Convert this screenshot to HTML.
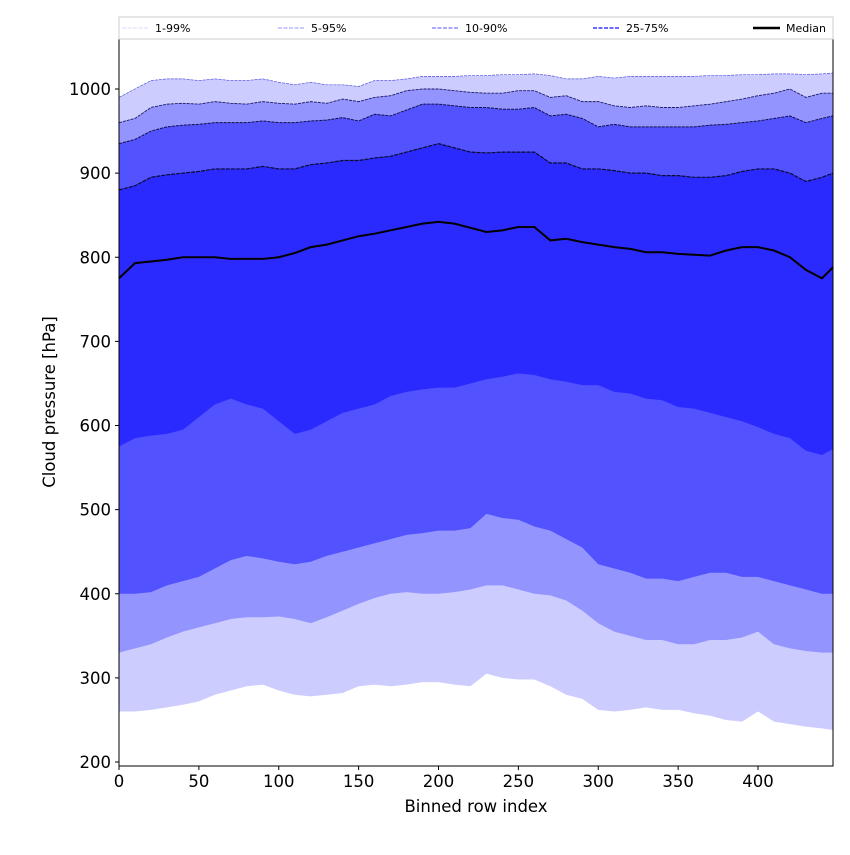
<!DOCTYPE html>
<html><head><meta charset="utf-8"><style>
body{margin:0;background:#fff;font-family:"Liberation Sans","DejaVu Sans",sans-serif}
</style></head><body>
<svg id="chart" width="850" height="850" xmlns="http://www.w3.org/2000/svg" font-family="DejaVu Sans, Liberation Sans, sans-serif">
<rect width="850" height="850" fill="#fff"/>
<g id="plot"></g>
<g id="axes"></g>
</svg>
<script>
const xs=[0,10,20,30,40,50,60,70,80,90,100,110,120,130,140,150,160,170,180,190,200,210,220,230,240,250,260,270,280,290,300,310,320,330,340,350,360,370,380,390,400,410,420,430,440,447];
const p99=[990,1000,1010,1012,1012,1010,1012,1010,1010,1012,1008,1005,1008,1005,1005,1003,1010,1010,1012,1015,1015,1015,1016,1016,1017,1017,1018,1016,1012,1012,1015,1013,1015,1015,1015,1015,1015,1016,1016,1017,1017,1018,1018,1017,1018,1019];
const p95=[960,965,978,982,983,982,985,983,982,985,983,982,985,983,988,985,990,992,998,1000,1000,998,996,995,995,998,998,990,992,985,985,980,978,980,978,978,980,982,985,988,992,995,1000,990,995,995];
const p90=[935,940,950,955,957,958,960,960,960,962,960,960,962,963,966,962,970,968,975,982,982,980,978,978,976,976,978,968,970,965,955,958,955,955,955,955,955,957,958,960,962,965,968,960,965,968];
const p75=[880,885,895,898,900,902,905,905,905,908,905,905,910,912,915,915,918,920,925,930,935,930,925,924,925,925,925,912,912,905,905,903,900,900,897,897,895,895,897,902,905,905,900,890,895,900];
const median=[775,793,795,797,800,800,800,798,798,798,800,805,812,815,820,825,828,832,836,840,842,840,835,830,832,836,836,820,822,818,815,812,810,806,806,804,803,802,808,812,812,808,800,785,775,788];
const p25=[575,585,588,590,595,610,625,632,625,620,605,590,595,605,615,620,625,635,640,643,645,645,650,655,658,662,660,655,652,648,648,640,638,632,630,622,620,615,610,605,598,590,585,570,565,572];
const p10=[400,400,402,410,415,420,430,440,445,442,438,435,438,445,450,455,460,465,470,472,475,475,478,495,490,488,480,475,465,455,435,430,425,418,418,415,420,425,425,420,420,415,410,405,400,400];
const p5=[330,335,340,348,355,360,365,370,372,372,373,370,365,372,380,388,395,400,402,400,400,402,405,410,410,405,400,398,392,380,365,355,350,345,345,340,340,345,345,348,355,340,335,332,330,330];
const p1=[260,260,262,265,268,272,280,285,290,292,285,280,278,280,282,290,292,290,292,295,295,292,290,305,300,298,298,290,280,275,262,260,262,265,262,262,258,255,250,248,260,248,245,242,240,238];
const xTicks=[0,50,100,150,200,250,300,350,400];
const yTicks=[200,300,400,500,600,700,800,900,1000];
const L=119,R=833,T=39,B=766;
const X=v=>L+(v-0)*(758-119)/400;
const Y=v=>89+(1000-v)*(762-89)/800;
const NS='http://www.w3.org/2000/svg';
function mk(tag,attrs,parent){const e=document.createElementNS(NS,tag);for(const k in attrs)e.setAttribute(k,attrs[k]);parent.appendChild(e);return e;}
const plot=document.getElementById('plot'),axes=document.getElementById('axes');
function band(lo,hi,color,name){
  let d='M'+xs.map((x,i)=>X(x)+','+Y(hi[i])).join('L');
  for(let i=xs.length-1;i>=0;i--)d+='L'+X(xs[i])+','+Y(lo[i]);
  const p=mk('path',{d:d+'Z',fill:color},plot);
  
  
}
function line(arr,color,w,dash,name){
  const p=mk('path',{d:'M'+xs.map((x,i)=>X(x)+','+Y(arr[i])).join('L'),fill:'none',stroke:color,'stroke-width':w,'stroke-dasharray':dash},plot);
  
  
}
band(p1,p99,'#ccccff','band-1-99');
band(p5,p95,'#9494ff','band-5-95');
band(p10,p90,'#5252ff','band-10-90');
band(p25,p75,'#2a2aff','band-25-75');
line(p99,'#5555dd',0.7,'3,1','line-p99');
line(p95,'#1a1a66',0.9,'3,1','line-p95');
line(p90,'#10104a',1,'3,1','line-p90');
line(p75,'#0a0a33',1.2,'4,1','line-p75');
line(median,'#000',2,'none','median-line');
const fr=mk('rect',{x:L,y:T,width:R-L,height:B-T,fill:'none',stroke:'#000','stroke-width':1},axes);


xTicks.forEach(t=>{
  mk('line',{x1:X(t),x2:X(t),y1:B,y2:B+4,stroke:'#000'},axes);
  const tx=mk('text',{x:X(t),y:B+21,'text-anchor':'middle','font-size':16.5},axes);tx.textContent=t;
  
  
});
yTicks.forEach(t=>{
  mk('line',{x1:L-4,x2:L,y1:Y(t),y2:Y(t),stroke:'#000'},axes);
  const tx=mk('text',{x:L-8,y:Y(t)+6,'text-anchor':'end','font-size':16.5},axes);tx.textContent=t;
  
  
});
const xt=mk('text',{x:476,y:812,'text-anchor':'middle','font-size':16.5},axes);xt.textContent='Binned row index';


const yt=mk('text',{x:0,y:0,'text-anchor':'middle','font-size':16.5,transform:'translate(55,402) rotate(-90)'},axes);yt.textContent='Cloud pressure [hPa]';


const lg=mk('g',{},axes);


mk('rect',{x:119,y:17,width:714,height:22,fill:'#fff',stroke:'#ccc'},lg);
const legLabels=['1-99%','5-95%','10-90%','25-75%','Median'];
const legX=[122,278,432,593,753];
const legColor=['#ccccff','#9494ff','#7777ff','#5555ff','#000'];
const legW=[0.7,0.9,1.2,1.8,2.5];
legLabels.forEach((s,i)=>{
  mk('line',{x1:legX[i],x2:legX[i]+27,y1:28,y2:28,stroke:legColor[i],'stroke-width':legW[i],'stroke-dasharray':i<4?'4,1.5':'none'},lg);
  const t=mk('text',{x:legX[i]+33,y:32,'font-size':11},lg);t.textContent=s;
  
  
});
</script>
</body></html>
